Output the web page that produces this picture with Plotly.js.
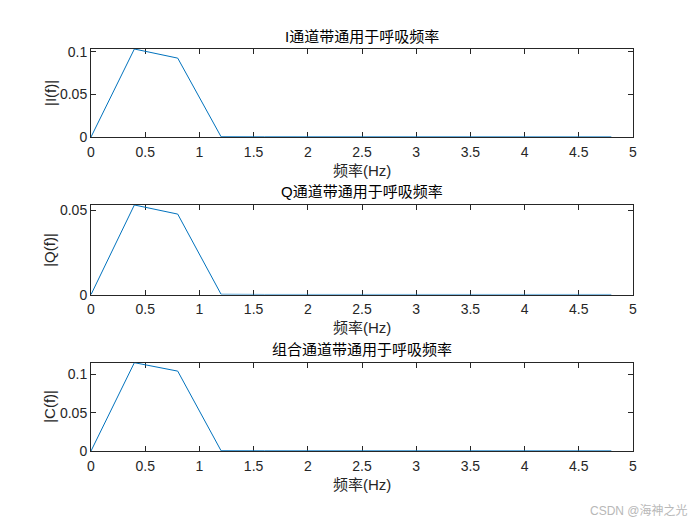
<!DOCTYPE html>
<html>
<head>
<meta charset="utf-8">
<script src="https://cdn.plot.ly/plotly-3.0.1.min.js"></script>
<style>
  html, body { margin: 0; padding: 0; background: #fff; }
  #chart { width: 700px; height: 525px; }
</style>
</head>
<body>
<div id="chart"></div>
<script>
// 频率轴 (Hz)
var freq = [0, 0.4, 0.8, 1.2, 1.6, 2.0, 2.4, 2.8, 3.2, 3.6, 4.0, 4.4, 4.8];
// 各通道幅度谱
var magI = [0, 0.1032, 0.0925, 0.0003, 0.0002, 0.0002, 0.0001, 0.0001, 0.0001, 0.0001, 0.0001, 0.0001, 0.0001];
var magQ = [0, 0.0530, 0.0476, 0.0002, 0.0001, 0.0001, 0.0001, 0.0001, 0.0001, 0.0001, 0.0001, 0.0001, 0.0001];
var magC = [0, 0.1153, 0.1043, 0.0003, 0.0002, 0.0002, 0.0001, 0.0001, 0.0001, 0.0001, 0.0001, 0.0001, 0.0001];

var titles = ['I通道带通用于呼吸频率', 'Q通道带通用于呼吸频率', '组合通道带通用于呼吸频率'];
var yLabels = ['|I(f)|', '|Q(f)|', '|C(f)|'];
var xLabel = '频率(Hz)';

var font = 'Liberation Sans, Arial, "Noto Sans CJK SC", sans-serif';
var axColor = '#262626';
var lineColor = '#0072BD';

var domains = [[0.781, 1], [0.389, 0.612], [0, 0.2197]];
var series = [magI, magQ, magC];

var data = [];
var annotations = [];
var layout = {
  width: 700,
  height: 525,
  margin: {l: 91, r: 67, t: 49, b: 74},
  paper_bgcolor: '#fff',
  plot_bgcolor: '#fff',
  showlegend: false,
  font: {family: font, size: 14, color: axColor}
};

series.forEach(function(s, i) {
  var n = i === 0 ? '' : (i + 1);
  data.push({
    x: freq, y: s, type: 'scatter', mode: 'lines',
    line: {color: lineColor, width: 1},
    xaxis: 'x' + n, yaxis: 'y' + n,
    hoverinfo: 'x+y'
  });
  var common = {
    showline: true, linecolor: axColor, linewidth: 1,
    mirror: 'ticks', ticks: 'inside', ticklen: 5, tickcolor: axColor,
    showgrid: false, zeroline: false, layer: 'below traces',
    tickfont: {family: font, size: 14, color: axColor}
  };
  layout['xaxis' + n] = Object.assign({}, common, {
    domain: [0, 1], range: [0, 5], dtick: 0.5, tick0: 0,
    anchor: 'y' + n, ticklabelstandoff: 2
  });
  layout['yaxis' + n] = Object.assign({}, common, {
    domain: domains[i], range: [0, Math.max.apply(null, s)],
    dtick: 0.05, tick0: 0, anchor: 'x' + n
  });
  annotations.push({
    text: titles[i], xref: 'paper', yref: 'paper', x: 0.5, y: domains[i][1],
    xanchor: 'center', yanchor: 'middle', yshift: 13, showarrow: false,
    font: {family: font, size: 15, color: '#000'}
  });
  annotations.push({
    text: xLabel, xref: 'paper', yref: 'paper', x: 0.5, y: domains[i][0],
    xanchor: 'center', yanchor: 'middle', yshift: -33, showarrow: false,
    font: {family: font, size: 15, color: axColor}
  });
  annotations.push({
    text: yLabels[i], xref: 'paper', yref: 'paper', x: 0,
    y: (domains[i][0] + domains[i][1]) / 2,
    xanchor: 'center', yanchor: 'middle', xshift: -41, textangle: -90,
    showarrow: false, font: {family: font, size: 15, color: axColor}
  });
});

annotations.push({
  text: 'CSDN @海神之光', xref: 'paper', yref: 'paper', x: 1.105, y: -0.148,
  xanchor: 'right', yanchor: 'middle', showarrow: false,
  font: {family: font, size: 12, color: '#b8b8b8'}
});
layout.annotations = annotations;

Plotly.newPlot('chart', data, layout, {displayModeBar: false, staticPlot: true});
</script>
</body>
</html>
